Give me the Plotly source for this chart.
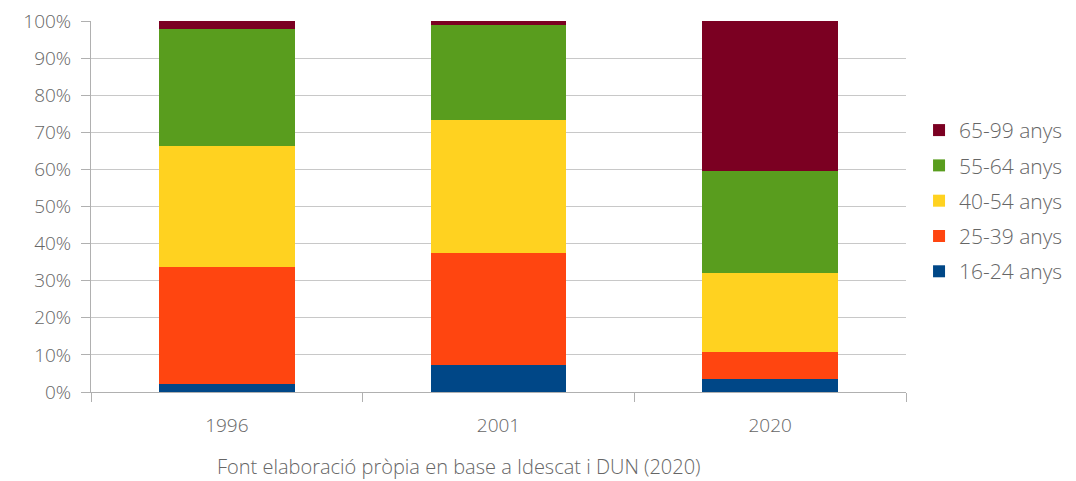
import plotly.graph_objects as go

years = ["1996", "2001", "2020"]

# share of each age group (%)
age_16_24 = [2.2, 7.3, 3.5]
age_25_39 = [31.5, 30.2, 7.3]
age_40_54 = [32.6, 35.8, 21.3]
age_55_64 = [31.5, 25.6, 27.5]
age_65_99 = [2.2, 1.1, 40.4]

series = [
    ("16-24 anys", age_16_24, "#004787"),
    ("25-39 anys", age_25_39, "#FF4510"),
    ("40-54 anys", age_40_54, "#FFD220"),
    ("55-64 anys", age_55_64, "#599D1E"),
    ("65-99 anys", age_65_99, "#7B0022"),
]

grey = "#666666"
font_family = "'Open Sans', Lato, sans-serif"

fig = go.Figure()
for i, (name, vals, col) in enumerate(series):
    # oldest group on top of the legend
    fig.add_trace(go.Bar(x=years, y=vals, name=name, legendgroup=name,
                         legendrank=1000 - i,
                         marker=dict(color=col, line=dict(width=0))))

# page has an 8px body margin, so margins are shifted by that amount
fig.update_layout(
    barmode="stack",
    bargap=0.5,
    width=1060, height=473,
    margin=dict(l=83, r=162, t=13, b=89, autoexpand=False),
    plot_bgcolor="white", paper_bgcolor="white",
    font=dict(family=font_family, color=grey, size=19, weight=300),
    legend=dict(traceorder="grouped", x=1.016, y=0.515, yanchor="middle",
                font=dict(size=21, color=grey, weight=300), itemwidth=30, tracegroupgap=5),
    annotations=[dict(text="Font elaboració pròpia en base a Idescat i DUN (2020)",
                      x=0.4515, xref="paper", y=-0.202, yref="paper", yanchor="middle",
                      showarrow=False, font=dict(size=20, color=grey, weight=300))],
)
fig.update_yaxes(range=[0, 100], dtick=10, ticksuffix="%", showgrid=True, gridcolor="#C8C8C8",
                 showline=True, linecolor="#B0B0B0", ticks="outside", ticklen=9, tickcolor="#B0B0B0",
                 zeroline=False, ticklabelstandoff=6, ticklabeloverflow="allow",
                 tickfont=dict(size=19, color=grey, weight=300))
fig.update_xaxes(showline=True, linecolor="#B0B0B0", ticks="outside", tickson="boundaries",
                 ticklen=9, tickcolor="#B0B0B0", ticklabelstandoff=16,
                 tickfont=dict(size=19, color=grey, weight=300))

fig.write_html("out.html")
